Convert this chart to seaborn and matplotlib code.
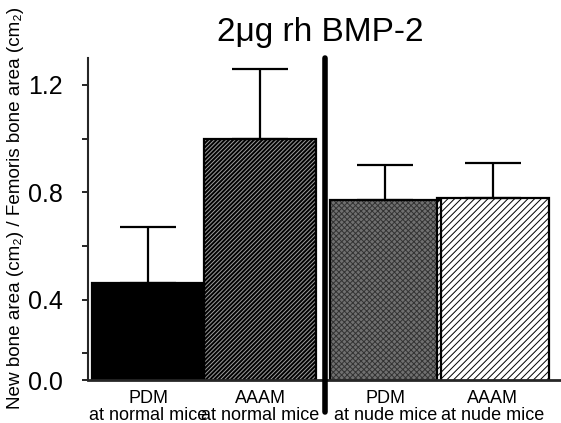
import numpy as np
import pandas as pd
import matplotlib
matplotlib.use('Agg')
import matplotlib.pyplot as plt
import seaborn as sns

# data
groups = ['PDM\nat normal mice', 'AAAM\nat normal mice', 'PDM\nat nude mice', 'AAAM\nat nude mice']
means = [0.46, 1.00, 0.77, 0.78]
sem = [0.21, 0.26, 0.13, 0.13]
ytick_values = [0.1, 0.4, 0.8, 1.2]
ytick_labels = ['0.0', '0.4', '0.8', '1.2']
minor_ticks = [0.2, 0.6, 1.0]

sns.set_style('ticks')
plt.rcParams['font.family'] = ['Liberation Sans', 'DejaVu Sans']
plt.rcParams['text.color'] = 'black'
plt.rcParams['xtick.color'] = 'black'
plt.rcParams['ytick.color'] = 'black'
plt.rcParams['axes.labelcolor'] = 'black'
plt.rcParams['hatch.linewidth'] = 0.7

# bar positions (gap between the two pairs)
xpos = [0.0, 1.0, 2.12, 3.08]
df = pd.DataFrame({'x': xpos, 'mean': means, 'group': groups})

fig = plt.figure(figsize=(5.61, 4.23), dpi=100)
ax = fig.add_axes([88 / 561, (423 - 380) / 423, 1 - 88 / 561, (380 - 58) / 423])

# fill layer
sns.barplot(data=df, x='x', y='mean', native_scale=True, width=1.0 / 0.96,
            errorbar=None, color='black', linewidth=0, ax=ax)
faces = ['black', 'black', '#707070', 'white']
hatches = [None, '////////', 'xxxxxx', '/////']
hatch_cols = ['black', '#a0a0a0', '#333333', 'black']
for p, fc, h, hc in zip(ax.patches, faces, hatches, hatch_cols):
    p.set_facecolor(fc)
    p.set_edgecolor(hc)
    p.set_linewidth(0)
    if h:
        p.set_hatch(h)

# outline layer
sns.barplot(data=df, x='x', y='mean', native_scale=True, width=1.0 / 0.96,
            errorbar=None, fill=False, edgecolor='black', linewidth=1.6, ax=ax)

# upper error bars only
ax.errorbar(xpos, means, yerr=[np.zeros(len(sem)), sem], fmt='none',
            ecolor='black', elinewidth=1.6, capsize=20, capthick=1.6, zorder=5)

ax.set_xlim(-0.54, 3.69)
ax.set_ylim(0.1, 1.30)
ax.set_yticks(ytick_values)
ax.set_yticklabels(ytick_labels, fontsize=18)
ax.set_yticks(minor_ticks, minor=True)
ax.tick_params(axis='y', which='both', direction='out', length=4, width=1.2, pad=14)
ax.set_xticks(xpos)
ax.set_xticklabels(groups, fontsize=13, linespacing=1.0)
ax.tick_params(axis='x', length=0, pad=7)
ax.set_xlabel('')
ax.set_ylabel('New bone area (cm\u2082) / Femoris bone area (cm\u2082)', fontsize=13.6)
ax.yaxis.set_label_coords(-0.135, 0.535)

sns.despine(ax=ax)
ax.spines['left'].set_linewidth(1.5)
ax.spines['bottom'].set_linewidth(2)

# thick divider between normal and nude mice
ax.axvline(1.575, ymin=-0.1, ymax=1.0, color='black', linewidth=4, clip_on=False, zorder=6)

ax.set_title('2\u03bcg rh BMP-2', fontsize=24, pad=12, x=0.49)

fig.savefig('out.png', dpi=100)
